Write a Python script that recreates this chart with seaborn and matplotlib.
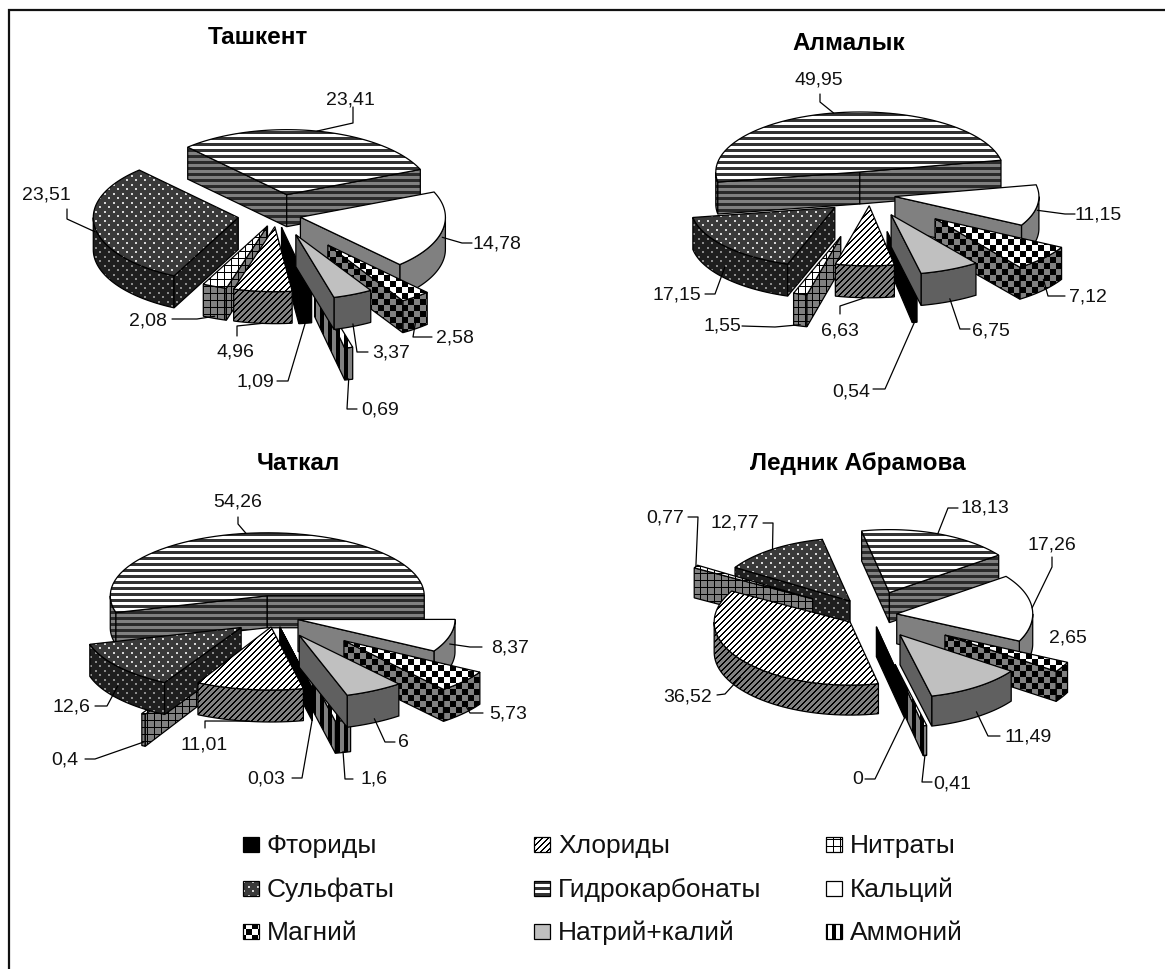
import numpy as np
import matplotlib
matplotlib.use("Agg")
import matplotlib.pyplot as plt
from matplotlib.patches import Polygon
import seaborn as sns

# series, in the order they go round the pie
series = ["Фториды", "Хлориды", "Нитраты", "Сульфаты", "Гидрокарбонаты",
          "Кальций", "Магний", "Натрий+калий", "Аммоний"]

titles = ["Ташкент", "Алмалык", "Чаткал", "Ледник Абрамова"]

tashkent = [1.09, 4.96, 2.08, 23.51, 23.41, 14.78, 2.58, 3.37, 0.69]
almalyk = [0.54, 6.63, 1.55, 17.15, 49.95, 11.15, 7.12, 6.75, 0]
chatkal = [0.03, 11.01, 0.4, 12.6, 54.26, 8.37, 5.73, 6, 1.6]
abramova = [0, 36.52, 0.77, 12.77, 18.13, 17.26, 2.65, 11.49, 0.41]
values = [tashkent, almalyk, chatkal, abramova]

# pie layout: centre, radii, depth, title position
START = 168
pies = [
    dict(c=(277, 216), rx=145, ry=65, h=32, title=(258, 37)),
    dict(c=(870, 196), rx=144, ry=60, h=32, title=(849, 43)),
    dict(c=(274.5, 618), rx=157, ry=63, h=32, title=(298, 464)),
    dict(c=(871, 616), rx=136, ry=63, h=30, title=(858, 464)),
]
explode = [
    [.19, .18, .18, .27, .32, .165, .58, .33, 1.1],
    [.62, .18, .72, .32, .39, .175, .6, .36, 0],
    [.16, .16, .75, .27, .34, .155, .58, .33, .7],
    [.19, .19, .5, .27, .38, .19, .63, .38, .8],
]
# back to front
draw_order = [
    [4, 5, 6, 8, 0, 7, 2, 3, 1],
    [4, 5, 6, 8, 0, 7, 2, 3, 1],
    [4, 5, 6, 8, 0, 7, 2, 3, 1],
    [3, 4, 2, 1, 5, 6, 8, 0, 7],
]

# label centre and the two bends of its leader, one row per series
leaders = [
    [((255, 382), (277, 382), (288, 382)), ((235, 352), (237, 337), (237, 327)),
     ((148, 321), (172, 320), (197, 320)), ((46, 195), (67, 210), (67, 220)),
     ((350, 100), (353, 108), (353, 124)), ((497, 244), (472, 244), (462, 244)),
     ((455, 338), (432, 338), (413, 338)), ((391, 353), (368, 353), (357, 353)),
     ((380, 410), (357, 410), (347, 410))],
    [((851, 392), (873, 390), (885, 390)), ((840, 331), (840, 315), (840, 307)),
     ((722, 326), (742, 327), (775, 328)), ((677, 295), (705, 295), (715, 295)),
     ((819, 80), (820, 95), (820, 103)), ((1098, 215), (1075, 215), (1065, 215)),
     ((1088, 297), (1065, 297), (1048, 297)), ((991, 331), (970, 330), (960, 330)),
     None],
    [((266, 779), (292, 779), (302, 779)), ((204, 745), (205, 729), (205, 722)),
     ((65, 760), (85, 760), (95, 760)), ((71, 707), (95, 707), (107, 707)),
     ((238, 502), (238, 518), (238, 525)), ((510, 648), (482, 648), (470, 648)),
     ((508, 714), (483, 714), (470, 714)), ((403, 743), (395, 743), (385, 743)),
     ((374, 779), (353, 780), (345, 780))],
    [((858, 780), (865, 780), (875, 780)), ((688, 697), (717, 696), (725, 695)),
     ((665, 518), (688, 518), (698, 518)), ((735, 523), (763, 524), (773, 524)),
     ((985, 508), (958, 509), (948, 509)), ((1052, 545), (1052, 558), (1052, 568)),
     ((1068, 638), None, None), ((1028, 737), (1000, 737), (988, 737)),
     ((952, 784), (932, 783), (922, 783))],
]

legend_cols = [243, 534, 826]
legend_rows = [846, 890, 933]

# face colours: (background, foreground) for top and side of each series
styles = [
    dict(kind="solid", top=("#000000", "#000000"), side=("#000000", "#000000")),
    dict(kind="diag", top=("#ffffff", "#000000"), side=("#808080", "#000000")),
    dict(kind="grid", top=("#ffffff", "#000000"), side=("#808080", "#000000")),
    dict(kind="dots", top=("#3a3a3a", "#d8d8d8"), side=("#1e1e1e", "#8c8c8c")),
    dict(kind="hlines", top=("#ffffff", "#333333"), side=("#808080", "#2a2a2a")),
    dict(kind="solid", top=("#ffffff", "#ffffff"), side=("#808080", "#808080")),
    dict(kind="check", top=("#ffffff", "#000000"), side=("#808080", "#000000")),
    dict(kind="solid", top=("#c0c0c0", "#c0c0c0"), side=("#606060", "#606060")),
    dict(kind="vlines", top=("#ffffff", "#000000"), side=("#808080", "#000000")),
]


def pattern(kind, xx, yy):
    if kind == "diag":
        return (xx + yy) % 6 < 2
    if kind == "grid":
        return (xx % 7 < 1) | (yy % 7 < 1)
    if kind == "dots":
        return (xx % 9 < 2) & (yy % 9 < 2) | ((xx + 4) % 9 < 2) & ((yy + 4) % 9 < 2)
    if kind == "hlines":
        return yy % 6 < 3
    if kind == "vlines":
        return xx % 8 < 4
    if kind == "check":
        return (xx // 6 + yy // 6) % 2 == 0
    return np.zeros_like(xx, dtype=bool)


sns.set_theme(style="white")
plt.rcParams["font.family"] = ["Liberation Sans", "DejaVu Sans"]

fig, ax = plt.subplots(figsize=(11.65, 9.70), dpi=100)
ax.set_position([0, 0, 1, 1])
ax.set_axis_off()
zorder = [10]


def draw_face(points, kind, colors):
    pts = np.array(points)
    zorder[0] += 1
    outline = Polygon(pts, closed=True, facecolor="none", edgecolor="black",
                      linewidth=0.9, zorder=zorder[0] + 0.5)
    ax.add_patch(outline)
    x0, y0 = np.floor(pts.min(axis=0)).astype(int)
    x1, y1 = np.ceil(pts.max(axis=0)).astype(int) + 1
    if x1 - x0 < 2:
        x1 = x0 + 2
    if y1 - y0 < 2:
        y1 = y0 + 2
    xx, yy = np.meshgrid(np.arange(x0, x1), np.arange(y0, y1))
    mask = pattern(kind, xx, yy)
    img = np.zeros(mask.shape + (3,))
    img[~mask] = matplotlib.colors.to_rgb(colors[0])
    img[mask] = matplotlib.colors.to_rgb(colors[1])
    im = ax.imshow(img, extent=(x0, x1, y1, y0), interpolation="bilinear",
                   aspect="auto", zorder=zorder[0])
    im.set_clip_path(outline)


def draw_pie(vals, layout, expl, order, labels):
    cx, cy = layout["c"]
    rx, ry, h = layout["rx"], layout["ry"], layout["h"]
    vals = np.array(vals, dtype=float)
    edges = START + np.concatenate([[0], np.cumsum(vals)]) / vals.sum() * 360
    anchors = []
    for i in range(len(vals)):
        a, b = edges[i], edges[i + 1]
        m = np.radians((a + b) / 2)
        tip = np.array([cx + expl[i] * rx * np.sin(m), cy - expl[i] * ry * np.cos(m)])
        t = max(0, -np.cos(m))
        anchors.append(tip + [rx * np.sin(m), -ry * np.cos(m) + h * t])

    for i in order:
        if vals[i] == 0 and i != 0:
            continue
        a, b = edges[i], edges[i + 1]
        m = np.radians((a + b) / 2)
        tip = np.array([cx + expl[i] * rx * np.sin(m), cy - expl[i] * ry * np.cos(m)])

        def rim(deg):
            d = np.radians(deg)
            return tip + np.column_stack([rx * np.sin(d), -ry * np.cos(d)])

        down = np.array([0, h])
        st = styles[i]
        # outer wall, only the part that faces the viewer
        for lo, hi in [(90, 270), (450, 630)]:
            p, q = max(a, lo), min(b, hi)
            if q > p:
                arc = rim(np.linspace(p, q, 40))
                draw_face(np.vstack([arc, (arc + down)[::-1]]), st["kind"], st["side"])
        # the two cut walls
        for deg, sign in [(a, -1), (b, 1)]:
            if sign * np.sin(np.radians(deg)) > 0:
                out = rim(np.array([deg]))[0]
                draw_face([tip, out, out + down, tip + down], st["kind"], st["side"])
        arc = rim(np.linspace(a, b, 60))
        draw_face(np.vstack([tip, arc]), st["kind"], st["top"])

    for i, row in enumerate(labels):
        if row is None:
            continue
        (lx, ly), p1, p2 = row
        text = f"{vals[i]:g}".replace(".", ",")
        ax.text(lx, ly, text, ha="center", va="center", fontsize=14, color="#111111", zorder=500)
        if p1 is not None:
            line = np.array([p1, p2, anchors[i]])
            ax.plot(line[:, 0], line[:, 1], color="black", lw=0.9, zorder=400)


for k in range(4):
    draw_pie(values[k], pies[k], explode[k], draw_order[k], leaders[k])
    ax.text(*pies[k]["title"], titles[k], ha="center", va="center",
            fontsize=17.5, fontweight="bold", color="black", zorder=500)

# legend
for i, name in enumerate(series):
    x = legend_cols[i % 3]
    y = legend_rows[i // 3]
    st = styles[i]
    box = [(x, y - 8), (x + 16, y - 8), (x + 16, y + 7), (x, y + 7)]
    draw_face(box, st["kind"], st["top"])
    ax.text(x + 24, y, name, ha="left", va="center", fontsize=19, color="#111111", zorder=500)

# the frame only shows on the top and left
ax.plot([1165, 9, 9], [11, 11, 970], color="#111111", lw=1.6, zorder=600, solid_joinstyle="miter")
ax.set_xlim(0, 1165)
ax.set_ylim(970, 0)
fig.savefig("out.png", dpi=100, facecolor="white")
